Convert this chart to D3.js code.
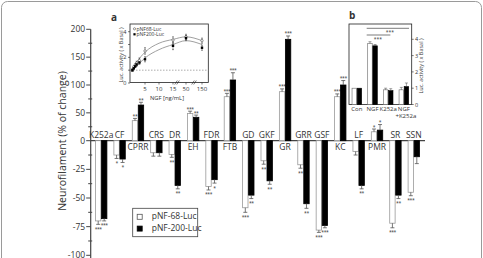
<!DOCTYPE html>
<html lang="en">
<head>
<meta charset="utf-8">
<title>Neurofilament promoter activity</title>
<script src="https://d3js.org/d3.v7.min.js"></script>
<style>
body { margin: 0; background: #fff; }
text { font-family: "Open Sans", sans-serif; fill: #333; }
</style>
</head>
<body>
<script>
// ---- main chart data ----
var categories = ["K252a","CF","CPRR","CRS","DR","EH","FDR","FTB","GD","GKF","GR","GRR","GSF","KC","LF","PMR","SR","SSN"];
var nf68     = [-70, -12.5, 36, -10.5, -12, 49, -40, 79, -58.5, -17.5, 88, -21, -78, 79, -9.5, 16, -72, -45];
var nf200    = [-68, -16, 64, -10.5, -39, 42, -34, 109, -47.5, -35, 182, -55, -74, 100, -39, 19, -47.5, -14];
var nf68Err  = [3, 3, 4, 3, 2.5, 4, 3, 6, 4, 3, 5, 3, 2, 5, 3, 5, 4, 3];
var nf200Err = [2, 3, 5, 3, 3, 4, 3, 13, 3, 3, 6, 4, 2, 8, 3, 10, 3, 6];
var nf68Sig  = ["***","*","**","","**","***","***","***","***","**","***","**","***","***","","*","***","***"];
var nf200Sig = ["***","*","**","","**","**","*","***","**","**","***","**","***","***","**","*","**",""];
var yMajor = [-100, -75, -50, -25, 0, 50, 100, 150, 200];
var yMinor = [-87.5, -62.5, -37.5, -12.5, 25, 75, 125, 175];
var seriesNames = ["pNF-68-Luc", "pNF-200-Luc"];

// ---- inset a data ----
var doseA   = [0.5, 1, 1.5, 2, 3, 5, 15, 50, 150];
var a68     = [1.0, 1.25, 1.4, 1.55, 1.75, 2.5, 3.35, 3.6, 3.3];
var a200    = [1.0, 1.15, 1.3, 1.45, 1.6, 1.85, 2.9, 3.5, 2.75];
var a68Err  = [0.1, 0.1, 0.1, 0.15, 0.2, 0.25, 0.25, 0.2, 0.2];
var a200Err = [0.1, 0.1, 0.1, 0.15, 0.15, 0.2, 0.3, 0.2, 0.2];
var fitDose = [0.5, 2, 5, 10, 15, 50, 150];
var fit68   = [1.0, 1.6, 2.4, 3.1, 3.4, 3.6, 3.3];
var fit200  = [0.95, 1.3, 1.95, 2.6, 3.0, 3.3, 3.0];
var doseTicks = [5, 10, 15, 50, 150];
var aTicks = [0, 2, 4];

// ---- inset b data ----
var bCats   = ["Con", "NGF", "K252a", "NGF+K252a"];
var b68     = [1.0, 3.75, 0.9, 0.9];
var b200    = [1.0, 3.6, 0.85, 1.1];
var b68Err  = [0, 0.1, 0.1, 0.15];
var b200Err = [0, 0.08, 0.12, 0.22];
var bTicks  = [0, 1, 2, 3, 4];

var w = 483, h = 258;
var svg = d3.select("body").append("svg").attr("width", w).attr("height", h);

// figure frame
svg.append("rect").attr("x", 1.5).attr("y", 1.5).attr("width", 480).attr("height", 300)
	.attr("rx", 6).attr("fill", "none").attr("stroke", "#9a9a9a").attr("stroke-width", 1);

// scales (split y axis: positive half compressed)
var x = d3.scaleBand().domain(categories).range([92, 423]);
var y = d3.scaleLinear().domain([-100, 0, 200]).range([255.3, 140.7, 29.3]);

// y axis
var axisX = 90.7;
svg.append("line").attr("x1", axisX).attr("x2", axisX).attr("y1", y(200)).attr("y2", 258)
	.attr("stroke", "#444").attr("stroke-width", 1.2);
svg.selectAll(".ymaj").data(yMajor).enter().append("line")
	.attr("x1", axisX - 4.5).attr("x2", axisX).attr("y1", d => y(d)).attr("y2", d => y(d))
	.attr("stroke", "#444").attr("stroke-width", 1);
svg.selectAll(".ymin").data(yMinor).enter().append("line")
	.attr("x1", axisX - 2.5).attr("x2", axisX + 1.5).attr("y1", d => y(d)).attr("y2", d => y(d))
	.attr("stroke", "#444").attr("stroke-width", 1);
svg.selectAll(".ylab").data(yMajor).enter().append("text")
	.attr("x", axisX - 5.5).attr("y", d => y(d) + 3)
	.attr("text-anchor", "end").attr("font-size", 8.5)
	.text(d => d);

svg.append("text").attr("transform", "translate(66,141) rotate(-90)")
	.attr("text-anchor", "middle").attr("font-size", 10.5)
	.text("Neurofilament (% of change)");

// zero line
svg.append("line").attr("x1", axisX).attr("x2", 425).attr("y1", y(0)).attr("y2", y(0))
	.attr("stroke", "#444").attr("stroke-width", 1.2);

// bars
var bw = 5.4;
var rows = categories.map(function(c, i) {
	return {cat: c, v: [nf68[i], nf200[i]], e: [nf68Err[i], nf200Err[i]], s: [nf68Sig[i], nf200Sig[i]]};
});
var g = svg.selectAll(".cat").data(rows).enter().append("g");
[0, 1].forEach(function(k) {
	var off = k === 0 ? -bw - 0.3 : 0.3;
	g.append("rect")
		.attr("x", d => x(d.cat) + x.bandwidth() / 2 + off)
		.attr("y", d => Math.min(y(d.v[k]), y(0)))
		.attr("width", bw)
		.attr("height", d => Math.abs(y(d.v[k]) - y(0)))
		.attr("fill", k === 0 ? "#fff" : "#000")
		.attr("stroke", k === 0 ? "#999" : "#000").attr("stroke-width", 0.8);
	// one-sided error bars
	var cx = d => x(d.cat) + x.bandwidth() / 2 + off + bw / 2;
	var ye = d => y(d.v[k] + (d.v[k] < 0 ? -d.e[k] : d.e[k]));
	g.append("line").attr("x1", cx).attr("x2", cx).attr("y1", d => y(d.v[k])).attr("y2", ye)
		.attr("stroke", "#555").attr("stroke-width", 0.8);
	g.append("line").attr("x1", d => cx(d) - 2).attr("x2", d => cx(d) + 2).attr("y1", ye).attr("y2", ye)
		.attr("stroke", "#555").attr("stroke-width", 0.8);
	g.append("text").attr("x", cx)
		.attr("y", d => d.v[k] < 0 ? ye(d) + 6.5 : ye(d) - 0.5)
		.attr("text-anchor", "middle").attr("font-size", 5)
		.attr("letter-spacing", -0.4)
		.text(d => d.s[k]);
});

// category labels: above zero line for negative, below for positive
g.append("text")
	.attr("x", d => x(d.cat) + x.bandwidth() / 2)
	.attr("y", d => d.v[0] < 0 ? y(0) - 2.5 : y(0) + 9.5)
	.attr("text-anchor", "middle").attr("font-size", 8.5)
	.text(d => d.cat);

// legend
var lg = svg.append("g").attr("transform", "translate(132.7,208.3)");
lg.append("rect").attr("width", 65).attr("height", 28.4).attr("fill", "#fff")
	.attr("stroke", "#444").attr("stroke-width", 0.8);
seriesNames.forEach(function(n, i) {
	lg.append("rect").attr("x", 4.5).attr("y", 6 + i * 11.8).attr("width", 5).attr("height", 5)
		.attr("fill", i === 0 ? "#fff" : "#000").attr("stroke", i === 0 ? "#555" : "#000").attr("stroke-width", 0.8);
	lg.append("text").attr("x", 19).attr("y", 11 + i * 11.8).attr("font-size", 8.5).text(n);
});

// ---- inset a ----
var ax = d3.scaleLinear().domain([0, 15, 50, 150]).range([131, 173, 186, 202]).clamp(true);
var ay = d3.scaleLinear().domain([0, 4]).range([83, 31.7]);
var ia = svg.append("g");
ia.append("rect").attr("x", 130).attr("y", 24).attr("width", 78.3).attr("height", 58.5)
	.attr("fill", "#fff").attr("stroke", "#222").attr("stroke-width", 0.8);
ia.append("line").attr("x1", 130).attr("x2", 208.3).attr("y1", ay(1)).attr("y2", ay(1))
	.attr("stroke", "#888").attr("stroke-width", 0.7).attr("stroke-dasharray", "1.5,1.5");
ia.selectAll(".at").data([0, 1, 2, 3, 4]).enter().append("line")
	.attr("x1", 128).attr("x2", 130).attr("y1", d => ay(d)).attr("y2", d => ay(d))
	.attr("stroke", "#222").attr("stroke-width", 0.6);
ia.selectAll(".atl").data(aTicks).enter().append("text")
	.attr("x", 126.5).attr("y", d => ay(d) + 2).attr("text-anchor", "end").attr("font-size", 5.5)
	.text(d => d);
ia.selectAll(".xt").data(doseTicks).enter().append("text")
	.attr("x", d => ax(d)).attr("y", 90.5).attr("text-anchor", "middle").attr("font-size", 6)
	.text(d => d);
ia.selectAll(".xtk").data(doseTicks).enter().append("line")
	.attr("x1", d => ax(d)).attr("x2", d => ax(d)).attr("y1", 82.5).attr("y2", 84.5)
	.attr("stroke", "#222").attr("stroke-width", 0.6);
ia.append("text").attr("x", 167).attr("y", 100).attr("text-anchor", "middle").attr("font-size", 5.8)
	.text("NGF [ng/mL]");
ia.append("text").attr("transform", "translate(122.5,55) rotate(-90)").attr("text-anchor", "middle")
	.attr("font-size", 5.5).text("Luc. activity ( x Basal )");
// axis breaks
[177, 194].forEach(function(bx) {
	[-1, 1].forEach(function(o) {
		ia.append("line").attr("x1", bx + o - 1.3).attr("x2", bx + o + 1.3).attr("y1", 84.5).attr("y2", 80.5)
			.attr("stroke", "#222").attr("stroke-width", 0.6);
	});
});
var fitLine = d3.line().x(d => ax(d[0])).y(d => ay(d[1])).curve(d3.curveMonotoneX);
ia.append("path").attr("d", fitLine(fitDose.map((d, i) => [d, fit68[i]])))
	.attr("fill", "none").attr("stroke", "#888").attr("stroke-width", 0.8);
ia.append("path").attr("d", fitLine(fitDose.map((d, i) => [d, fit200[i]])))
	.attr("fill", "none").attr("stroke", "#888").attr("stroke-width", 0.8);
[[a68, a68Err, "#fff"], [a200, a200Err, "#000"]].forEach(function(s) {
	doseA.forEach(function(d, i) {
		ia.append("line").attr("x1", ax(d)).attr("x2", ax(d))
			.attr("y1", ay(s[0][i] - s[1][i])).attr("y2", ay(s[0][i] + s[1][i]))
			.attr("stroke", "#333").attr("stroke-width", 0.5);
		[-1, 1].forEach(function(sg) {
			ia.append("line").attr("x1", ax(d) - 1).attr("x2", ax(d) + 1)
				.attr("y1", ay(s[0][i] + sg * s[1][i])).attr("y2", ay(s[0][i] + sg * s[1][i]))
				.attr("stroke", "#333").attr("stroke-width", 0.5);
		});
	});
});
ia.selectAll(".p68").data(doseA).enter().append("circle")
	.attr("cx", d => ax(d)).attr("cy", (d, i) => ay(a68[i])).attr("r", 1.2)
	.attr("fill", "#fff").attr("stroke", "#333").attr("stroke-width", 0.5);
ia.selectAll(".p200").data(doseA).enter().append("rect")
	.attr("x", d => ax(d) - 1.2).attr("y", (d, i) => ay(a200[i]) - 1.2).attr("width", 2.4).attr("height", 2.4)
	.attr("fill", "#000");
// inset a legend
ia.append("circle").attr("cx", 134.5).attr("cy", 28.8).attr("r", 1.1).attr("fill", "#fff").attr("stroke", "#333").attr("stroke-width", 0.5);
ia.append("text").attr("x", 136.5).attr("y", 30.6).attr("font-size", 5).text("pNF68-Luc");
ia.append("rect").attr("x", 133.4).attr("y", 33.2).attr("width", 2.2).attr("height", 2.2).attr("fill", "#000");
ia.append("text").attr("x", 136.5).attr("y", 36).attr("font-size", 5).text("pNF200-Luc");
svg.append("text").attr("x", 111).attr("y", 20.5).attr("font-size", 10).attr("font-weight", "bold")
	.attr("fill", "#111").text("a");

// ---- inset b ----
var bx = d3.scaleBand().domain(bCats).range([349, 411.7]);
var by = d3.scaleLinear().domain([0, 4]).range([104.5, 39.3]);
var ib = svg.append("g");
ib.append("rect").attr("x", 349).attr("y", 24).attr("width", 62.7).attr("height", 80.5)
	.attr("fill", "#fff").attr("stroke", "#222").attr("stroke-width", 0.8);
var bbw = 4.5;
[[b68, b68Err], [b200, b200Err]].forEach(function(s, k) {
	var off = k === 0 ? -bbw - 0.3 : 0.3;
	bCats.forEach(function(c, i) {
		var x0 = bx(c) + bx.bandwidth() / 2 + off;
		ib.append("rect").attr("x", x0).attr("y", by(s[0][i])).attr("width", bbw)
			.attr("height", by(0) - by(s[0][i]))
			.attr("fill", k === 0 ? "#fff" : "#000").attr("stroke", k === 0 ? "#666" : "#000").attr("stroke-width", 0.6);
		if (s[1][i] > 0) {
			var cx = x0 + bbw / 2, ye = by(s[0][i] + s[1][i]);
			ib.append("line").attr("x1", cx).attr("x2", cx).attr("y1", by(s[0][i])).attr("y2", ye)
				.attr("stroke", "#444").attr("stroke-width", 0.5);
			ib.append("line").attr("x1", cx - 1.5).attr("x2", cx + 1.5).attr("y1", ye).attr("y2", ye)
				.attr("stroke", "#444").attr("stroke-width", 0.5);
		}
	});
});
ib.selectAll(".bt").data(bTicks).enter().append("line")
	.attr("x1", 411.7).attr("x2", 413.7).attr("y1", d => by(d)).attr("y2", d => by(d))
	.attr("stroke", "#222").attr("stroke-width", 0.6);
ib.selectAll(".btl").data(bTicks).enter().append("text")
	.attr("x", 415).attr("y", d => by(d) + 2).attr("font-size", 5.5).text(d => d);
ib.append("text").attr("transform", "translate(423,66) rotate(-90)").attr("text-anchor", "middle")
	.attr("font-size", 5.5).text("Luc. activity ( x Basal )");
bCats.forEach(function(c) {
	var cx = bx(c) + bx.bandwidth() / 2;
	var parts = c.indexOf("+") > 0 ? [c.split("+")[0], "+" + c.split("+")[1]] : [c];
	parts.forEach(function(p, j) {
		ib.append("text").attr("x", cx + (j ? 2 : 0)).attr("y", 111 + j * 6.5).attr("text-anchor", "middle")
			.attr("font-size", 6).text(p);
	});
});
// significance brackets
var sig = [[bx("NGF") + 2, bx("NGF+K252a") + 13, 28.3, 390], [bx("NGF") + 2, bx("K252a") + 10, 35, 378]];
sig.forEach(function(s) {
	ib.append("line").attr("x1", s[0]).attr("x2", s[1]).attr("y1", s[2]).attr("y2", s[2])
		.attr("stroke", "#222").attr("stroke-width", 0.6);
	ib.append("text").attr("x", s[3]).attr("y", s[2] + 5.5).attr("text-anchor", "middle")
		.attr("font-size", 5).text("***");
});
svg.append("text").attr("x", 349).attr("y", 19).attr("font-size", 10).attr("font-weight", "bold")
	.attr("fill", "#111").text("b");
</script>
</body>
</html>
